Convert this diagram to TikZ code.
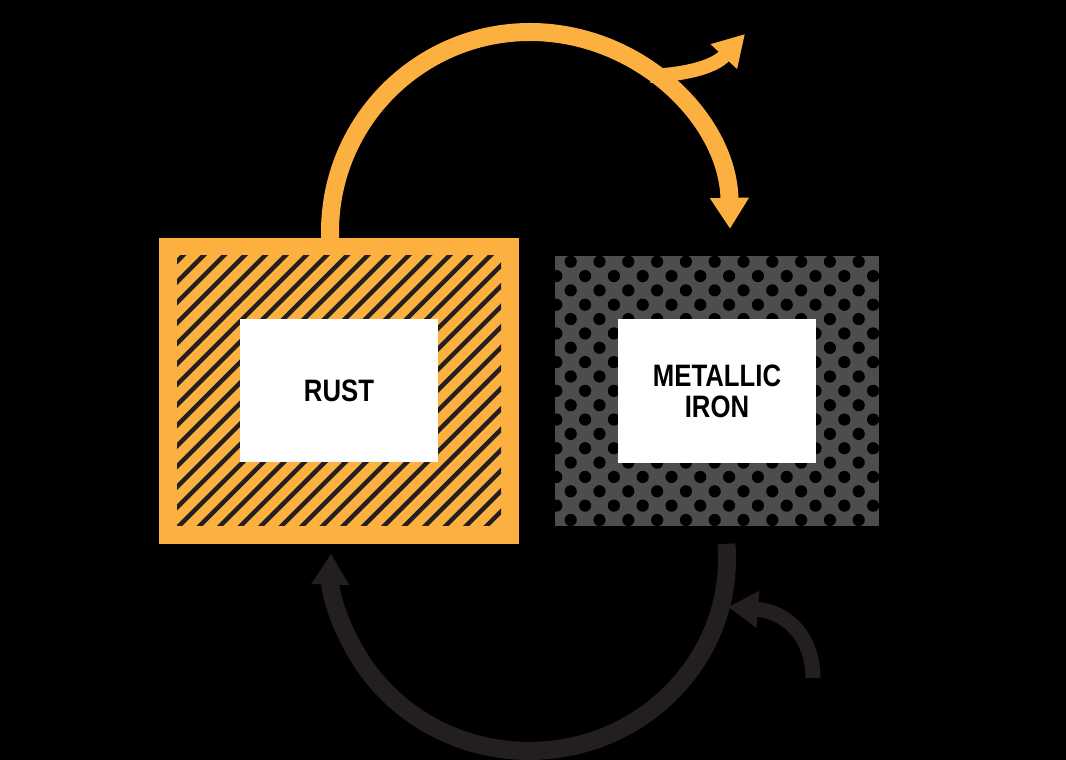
\documentclass[tikz,border=0pt]{standalone}
\usepackage{fontspec}
\newfontfamily\labfont[FakeStretch=0.83]{Liberation Sans}
\usetikzlibrary{arrows.meta}
\definecolor{rustorange}{HTML}{FBB040}
\definecolor{ink}{HTML}{231F20}
\definecolor{irongray}{HTML}{4D4D4D}
\begin{document}
\begin{tikzpicture}[x=1pt,y=1pt,
  box/.style={inner sep=0pt, outer sep=0pt, draw=none},
  labelbox/.style={box, fill=white, minimum width=198pt, minimum height=143pt,
    font=\labfont\bfseries\fontsize{31}{31}\selectfont, align=center, text=black},
  hatchline/.style={draw=ink, line width=4.5pt},
  dot/.style={fill=black},
  oflow/.style={draw=rustorange, line width=18pt, -{Triangle[length=31pt,width=37pt]}},
  oflowthin/.style={draw=rustorange, line width=14pt, -{Triangle[length=31pt,width=34pt]}},
  dflow/.style={draw=ink, line width=18pt, -{Triangle[length=31pt,width=36pt]}},
  dflowthin/.style={draw=ink, line width=15pt, -{Triangle[length=30pt,width=35pt]}},
]
% background / bounding box
\fill[black] (0,0) rectangle (1066,760);
\useasboundingbox (0,0) rectangle (1066,760);

% RUST box
\node[box, fill=rustorange, minimum width=360pt, minimum height=306pt] (rust) at (339,369) {};
\begin{scope}
  \clip (177,234) rectangle (501,504);
  \foreach \i in {-14,...,16} {
    \draw[hatchline] ({177+20.5*\i},232) -- ++(285,285);
  }
\end{scope}
\node[labelbox] (rustlabel) at (339,369.5) {RUST};

% METALLIC IRON box
\node[box, fill=irongray, minimum width=324pt, minimum height=270pt] (iron) at (717,369) {};
\begin{scope}
  \clip (iron.south west) rectangle (iron.north east);
  \foreach \j in {0,...,19} {
    \foreach \k in {-1,...,11} {
      \pgfmathsetmacro{\dx}{556.3+14.4*(1-mod(\j,2))+28.8*\k}
      \pgfmathsetmacro{\dy}{498.3-14.35*\j}
      \fill[dot] (\dx,\dy) circle (6.1pt);
    }
  }
\end{scope}
\node[labelbox, minimum height=144pt] (ironlabel) at (717,369) {METALLIC\\IRON};

% connectors
\coordinate (oEnd) at (745,726);
\coordinate (oBranchStart) at (650,684);
\draw[oflowthin] (oBranchStart) .. controls (690,686) and (715,694) .. (oEnd);
\draw[oflow] ([xshift=-9pt,yshift=-3pt]rust.north) -- ++(0,9)
  arc[start angle=180, end angle=0.9, radius=200];

\coordinate (dBranchStart) at (813,82);
\coordinate (dBranchEnd) at (728,153);
\draw[dflowthin] (dBranchStart) .. controls (813,120) and (790,148) .. (dBranchEnd);
\draw[dflow] ([xshift=9.4pt,yshift=-17.9pt]iron.south)
  arc[start angle=4.5, end angle=-181.6, x radius=198, y radius=192];
\end{tikzpicture}
\end{document}
